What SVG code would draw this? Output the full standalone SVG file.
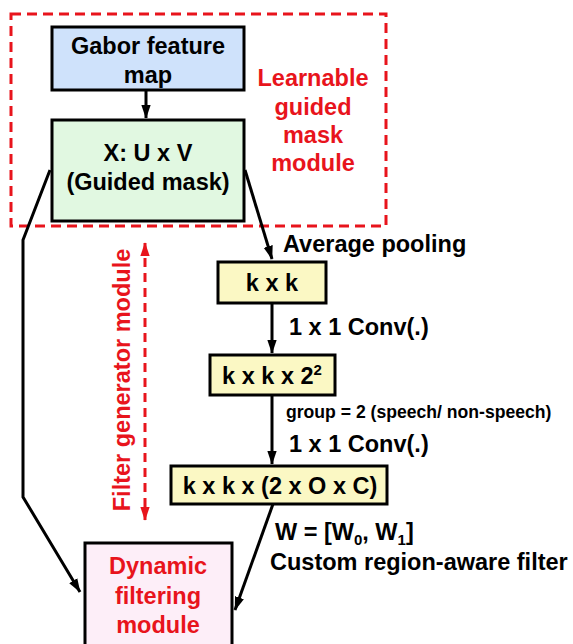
<svg xmlns="http://www.w3.org/2000/svg" width="573" height="644" viewBox="0 0 573 644">
  <defs>
    <marker id="ah" viewBox="0 0 10 10" refX="9.5" refY="5" markerWidth="4.6" markerHeight="4.6" orient="auto" markerUnits="strokeWidth">
      <path d="M0,1.6 L10,5 L0,8.4 z" fill="#000"/>
    </marker>
    <marker id="ahr" viewBox="0 0 10 10" refX="9.5" refY="5" markerWidth="4.6" markerHeight="4.6" orient="auto-start-reverse" markerUnits="strokeWidth">
      <path d="M0,1.6 L10,5 L0,8.4 z" fill="#e8141c"/>
    </marker>
    <style>
      text { font-family: "Liberation Sans", Arial, sans-serif; font-weight: bold; font-size: 23.5px; fill: #000; }
      .box { stroke: #000; stroke-width: 3; }
      .red { fill: #e8141c; }
      .small { font-size: 17.6px; }
      .idx { font-size: 15px; }
      .edge { fill: none; stroke: #000; stroke-width: 3; }
    </style>
  </defs>
  <rect width="573" height="644" fill="#fff"/>

  <!-- module region -->
  <g id="mask-module">
    <rect x="11" y="14" width="375" height="212" fill="none" stroke="#e8141c" stroke-width="3" stroke-dasharray="10,6"/>
    <text class="red" text-anchor="middle"><tspan x="313" y="86">Learnable</tspan><tspan x="313" y="115">guided</tspan><tspan x="313" y="143">mask</tspan><tspan x="313" y="171">module</tspan></text>
  </g>

  <g id="gabor">
    <rect class="box" x="52" y="27" width="192" height="63" fill="#cfe2fb"/>
    <text text-anchor="middle"><tspan x="148" y="54">Gabor feature</tspan><tspan x="148" y="83">map</tspan></text>
  </g>

  <g id="guided-mask">
    <rect class="box" x="52" y="120" width="192" height="101" fill="#e1f8e1"/>
    <text text-anchor="middle"><tspan x="148" y="161">X: U x V</tspan><tspan x="148" y="190">(Guided mask)</tspan></text>
  </g>

  <g id="kxk">
    <rect class="box" x="218" y="262" width="108" height="41" fill="#fbf8c4"/>
    <text x="272" y="291" text-anchor="middle">k x k</text>
  </g>

  <g id="kxk4">
    <rect class="box" x="210" y="355" width="125" height="40" fill="#fbf8c4"/>
    <text x="272" y="384" text-anchor="middle">k x k x 2<tspan class="idx" dy="-9">2</tspan></text>
  </g>

  <g id="kxkoc">
    <rect class="box" x="171" y="466" width="216" height="38" fill="#fbf8c4"/>
    <text x="280" y="494" text-anchor="middle">k x k x (2 x O x C)</text>
  </g>

  <g id="dynamic">
    <rect class="box" x="85" y="543" width="147" height="104" fill="#fdeef8"/>
    <text class="red" text-anchor="middle"><tspan x="158" y="574">Dynamic</tspan><tspan x="158" y="604">filtering</tspan><tspan x="158" y="633">module</tspan></text>
  </g>

  <g id="filter-generator">
    <text class="red" transform="translate(130,380) rotate(-90)" text-anchor="middle">Filter generator module</text>
    <line x1="145" y1="243" x2="145" y2="520" stroke="#e8141c" stroke-width="3" stroke-dasharray="9,6" marker-start="url(#ahr)" marker-end="url(#ahr)"/>
  </g>

  <g id="connectors">
    <line class="edge" x1="146" y1="90" x2="146" y2="118" marker-end="url(#ah)"/>
    <polyline class="edge" points="50,170 23,240 23,497 80,592" marker-end="url(#ah)"/>
    <line class="edge" x1="245" y1="170" x2="272" y2="259" marker-end="url(#ah)"/>
    <line class="edge" x1="272" y1="303" x2="272" y2="353" marker-end="url(#ah)"/>
    <line class="edge" x1="272" y1="395" x2="272" y2="464" marker-end="url(#ah)"/>
    <line class="edge" x1="273" y1="504" x2="235" y2="610" marker-end="url(#ah)"/>
  </g>

  <g id="edge-labels">
    <text x="283" y="252">Average pooling</text>
    <text x="289" y="335">1 x 1 Conv(.)</text>
    <text class="small" x="286" y="418">group = 2 (speech/ non-speech)</text>
    <text x="289" y="452">1 x 1 Conv(.)</text>
    <text x="275" y="540">W = [W<tspan class="idx" dy="5">0</tspan><tspan dy="-5">, W</tspan><tspan class="idx" dy="5">1</tspan><tspan dy="-5">]</tspan></text>
    <text x="270" y="570">Custom region-aware filter</text>
  </g>
</svg>
